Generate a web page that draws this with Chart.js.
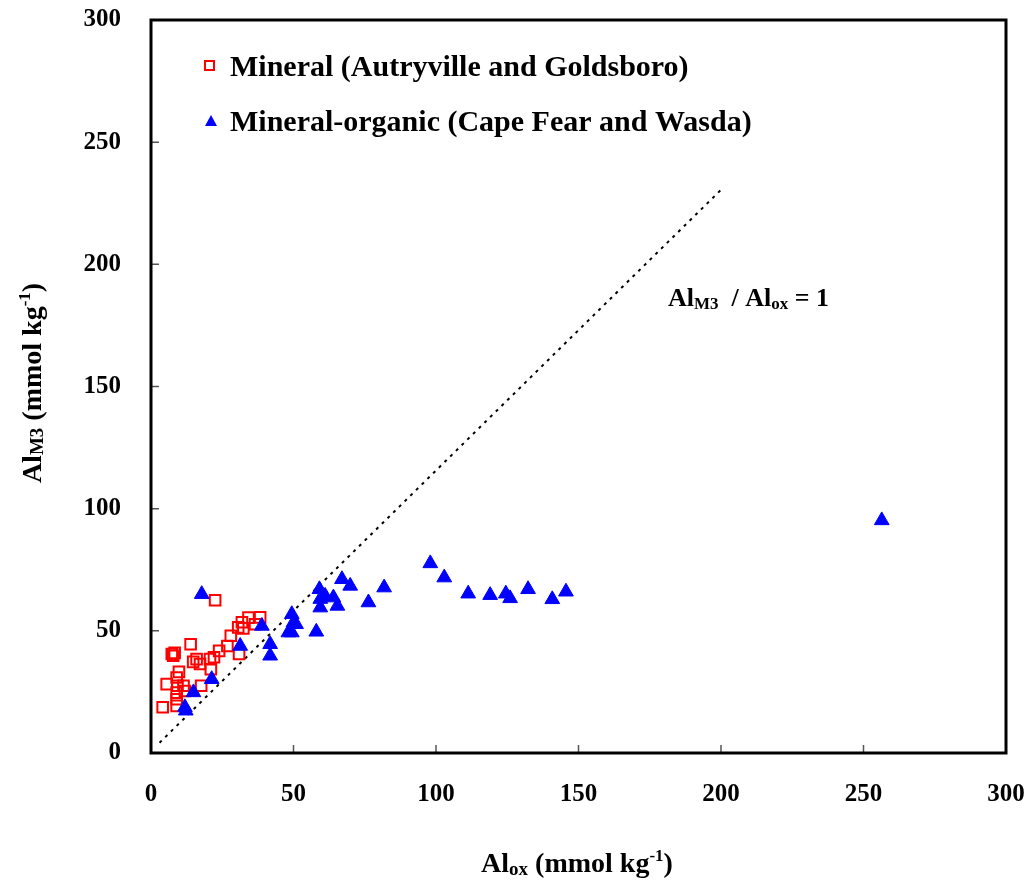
<!DOCTYPE html>
<html>
<head>
<meta charset="utf-8">
<script src="https://cdn.jsdelivr.net/npm/chart.js@4.4.1/dist/chart.umd.min.js"></script>
<style>
  html, body { margin: 0; padding: 0; background: #fff; }
</style>
</head>
<body>
<canvas id="alChart" width="1029" height="886"></canvas>
<script>
// Mineral soils (Autryville and Goldsboro)
const mineralX = [22.5, 13.9, 7.3, 7.8, 8.3, 34.2, 38.3, 36.5, 31.9, 32.4, 30.6, 28, 26.8, 23.9, 22.1, 20.7, 16, 14.8, 17.2, 21, 30.9, 9.8, 9, 5.5, 9.3, 11.4, 17.6, 9, 11.9, 9, 4.1, 9];
const mineralY = [62.5, 44.5, 40.5, 39.8, 41, 55.4, 55.5, 52.7, 53.5, 51, 51.4, 48, 43.8, 41.8, 39.2, 38.4, 38.4, 37.3, 36.4, 34.3, 40.5, 33.2, 30.9, 28.2, 27.5, 27.5, 27.5, 24.7, 25.4, 19.3, 18.7, 22];

// Mineral-organic soils (Cape Fear and Wasda)
const organicX = [17.8, 38.9, 31.3, 41.8, 41.8, 21.3, 14.9, 11.9, 12.2, 49.4, 50, 50.9, 48.2, 49.4, 58, 59.1, 59.4, 59.4, 61.1, 64, 65.4, 67, 69.9, 76.3, 81.8, 98, 102.9, 111.3, 119, 124.5, 126, 132.3, 140.8, 145.6, 256.4];
const organicY = [65, 52, 43.8, 44.5, 39.8, 30.2, 24.8, 18.7, 17.3, 56.8, 53.4, 52.7, 49.3, 49.3, 49.6, 67, 63, 59.5, 64.3, 63.6, 60.2, 71.1, 68.4, 61.6, 67.7, 77.6, 71.8, 65.2, 64.6, 65.2, 63.3, 67, 62.9, 66, 95.2];

// dotted reference line
const lineX = [3, 200];
const lineY = [4.2, 230.5];

const xTicks = [0, 50, 100, 150, 200, 250, 300];
const yTicks = [0, 50, 100, 150, 200, 250, 300];

const serif = '"Liberation Serif", "Times New Roman", serif';
const font = (size) => "bold " + size + "px " + serif;

const toPoints = (xs, ys) => xs.map((x, i) => ({ x: x, y: ys[i] }));

// draws text runs of different sizes / shifts one after another, returns total width
const drawRuns = (ctx, runs, x, y, measureOnly) => {
  let cx = x;
  runs.forEach((r) => {
    ctx.font = font(r.size);
    if (!measureOnly) ctx.fillText(r.text, cx, y + (r.dy || 0));
    cx += ctx.measureText(r.text).width;
  });
  return cx - x;
};

const xTitle = [
  { text: "Al", size: 28 },
  { text: "ox", size: 19, dy: 3 },
  { text: " (mmol kg", size: 28 },
  { text: "-1", size: 17, dy: -11 },
  { text: ")", size: 28 },
];
const yTitle = [
  { text: "Al", size: 28 },
  { text: "M3", size: 19, dy: 2 },
  { text: " (mmol kg", size: 28 },
  { text: "-1", size: 17, dy: -11 },
  { text: ")", size: 28 },
];
const ratioLabel = [
  { text: "Al", size: 26 },
  { text: "M3", size: 17, dy: 3 },
  { text: "  / Al", size: 26 },
  { text: "ox", size: 17, dy: 3 },
  { text: " = 1", size: 26 },
];

// no extra room for overflowing tick labels, layout padding decides the plot box
const fixScale = (scale, size) => {
  if (scale.isHorizontal()) scale.height = size;
  else scale.width = size;
  scale.paddingTop = 0;
  scale.paddingBottom = 0;
  scale.paddingLeft = 0;
  scale.paddingRight = 0;
};

const framePlugin = {
  id: "frame",
  afterDraw(chart) {
    const ctx = chart.ctx;
    const a = chart.chartArea;
    const xs = chart.scales.x;
    const ys = chart.scales.y;
    ctx.save();

    // inward tick marks
    ctx.strokeStyle = "#555";
    ctx.lineWidth = 1.5;
    ctx.beginPath();
    xTicks.forEach((v) => {
      const px = xs.getPixelForValue(v);
      ctx.moveTo(px, a.bottom);
      ctx.lineTo(px, a.bottom - 8);
    });
    yTicks.forEach((v) => {
      const py = ys.getPixelForValue(v);
      ctx.moveTo(a.left, py);
      ctx.lineTo(a.left + 8, py);
    });
    ctx.stroke();

    // plot frame
    ctx.strokeStyle = "#000";
    ctx.lineWidth = 3;
    ctx.strokeRect(a.left, a.top, a.right - a.left, a.bottom - a.top);

    ctx.fillStyle = "#000";
    ctx.textBaseline = "alphabetic";
    ctx.textAlign = "left";

    // x title
    let w = drawRuns(ctx, xTitle, 0, 0, true);
    drawRuns(ctx, xTitle, 577 - w / 2, 872);

    // y title
    ctx.save();
    ctx.translate(41, 383);
    ctx.rotate(-Math.PI / 2);
    w = drawRuns(ctx, yTitle, 0, 0, true);
    drawRuns(ctx, yTitle, -w / 2, 0);
    ctx.restore();

    // ratio label
    drawRuns(ctx, ratioLabel, 668, 306);

    // legend
    ctx.font = font(30);
    ctx.strokeStyle = "#ff0000";
    ctx.lineWidth = 2;
    ctx.strokeRect(205, 61, 9, 9);
    ctx.fillText(chart.data.datasets[1].label, 230, 76);

    ctx.fillStyle = "#0000ff";
    ctx.beginPath();
    ctx.moveTo(211, 115);
    ctx.lineTo(217, 126);
    ctx.lineTo(205, 126);
    ctx.closePath();
    ctx.fill();
    ctx.fillStyle = "#000";
    ctx.fillText(chart.data.datasets[0].label, 230, 131);

    ctx.restore();
  },
};

const config = {
  type: "scatter",
  data: {
    datasets: [
      {
        label: "Mineral-organic (Cape Fear and Wasda)",
        data: toPoints(organicX, organicY),
        pointStyle: "triangle",
        pointRadius: 8.5,
        pointHoverRadius: 8.5,
        backgroundColor: "#0000ff",
        borderColor: "#0000ff",
        borderWidth: 1,
        order: 0,
      },
      {
        label: "Mineral (Autryville and Goldsboro)",
        data: toPoints(mineralX, mineralY),
        pointStyle: "rect",
        pointRadius: 7.5,
        pointHoverRadius: 7.5,
        backgroundColor: "rgba(255,255,255,0)",
        borderColor: "#ff0000",
        borderWidth: 2,
        order: 1,
      },
      {
        label: "ratio",
        type: "line",
        data: toPoints(lineX, lineY),
        showLine: true,
        pointRadius: 0,
        borderColor: "#000",
        borderWidth: 2,
        borderDash: [3, 5],
        fill: false,
        order: 2,
      },
    ],
  },
  options: {
    responsive: false,
    animation: false,
    layout: { padding: { top: 20, right: 23, left: 0, bottom: 0 } },
    plugins: {
      legend: { display: false },
      tooltip: { enabled: false },
    },
    scales: {
      x: {
        type: "linear",
        min: 0,
        max: 300,
        grid: { display: false },
        border: { display: false },
        ticks: {
          stepSize: 50,
          padding: 19,
          color: "#000",
          font: { family: serif, size: 25, weight: "bold" },
        },
        afterFit: (scale) => fixScale(scale, 133),
      },
      y: {
        type: "linear",
        min: 0,
        max: 300,
        grid: { display: false },
        border: { display: false },
        ticks: {
          stepSize: 50,
          padding: 22,
          color: "#000",
          font: { family: serif, size: 25, weight: "bold" },
        },
        afterFit: (scale) => fixScale(scale, 151),
      },
    },
  },
  plugins: [framePlugin],
};

const ctx = document.getElementById("alChart").getContext("2d");
const alChart = new Chart(ctx, config);
</script>
</body>
</html>
